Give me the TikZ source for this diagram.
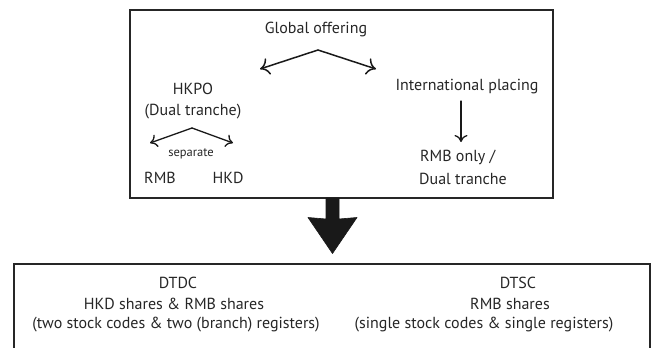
\documentclass[tikz,border=0pt]{standalone}
\usepackage{fontspec}
\setmainfont{PT Sans}
\usetikzlibrary{arrows.meta}
\begin{document}
\begin{tikzpicture}[x=1pt,y=-1pt,
  frame/.style={draw=black!85, line width=1.5pt},
  lbl/.style={font=\fontsize{16}{19}\selectfont, text=black!85, inner sep=0pt},
  smalllbl/.style={font=\fontsize{12.5}{15}\selectfont, text=black!85, inner sep=0pt},
  link/.style={draw=black!90, line width=1.5pt, line cap=round, -{To[length=9pt,width=17pt]}},
  smalllink/.style={draw=black!90, line width=1.3pt, line cap=round, -{To[length=7pt,width=13pt]}},
  bigarrow/.style={fill=black!90, draw=black!90, line width=0.6pt, line join=round}]
\useasboundingbox (0,0) rectangle (651,348);

% upper frame: offering structure
\draw[frame] (130,10) rectangle (553,198);

\node[lbl] (global) at (316,29) {Global offering};
\coordinate (gsplit) at (318,50);
\coordinate (gleft) at (260,69);
\coordinate (gright) at (376,69);
\draw[link] (gsplit) -- (gleft);
\draw[link] (gsplit) -- (gright);

\node[lbl] (hkpo) at (193,89) {HKPO};
\node[lbl] (dual) at (193,112) {(Dual tranche)};
\coordinate (hsplit) at (192,128);
\coordinate (hleft) at (150,143);
\coordinate (hright) at (233,143);
\draw[smalllink] (hsplit) -- (hleft);
\draw[smalllink] (hsplit) -- (hright);
\node[smalllbl] (separate) at (191,154) {separate};
\node[lbl] (rmb) at (160,178) {RMB};
\node[lbl] (hkd) at (228,178) {HKD};

\node[lbl] (intl) at (467,87) {International placing};
\node[lbl, anchor=west] (rmbonly) at (420,157) {RMB only /};
\node[lbl, anchor=west] (dualtr) at (419,179) {Dual tranche};
\coordinate (itop) at (461,101);
\coordinate (ibot) at (461,142);
\draw[smalllink] (itop) -- (ibot);

% block arrow down to the listing models
\path[bigarrow] (326,198) -- (339,198) -- (339,219) -- (357,217.5)
  -- (332.5,253.5) -- (308,217.5) -- (326,219) -- cycle;

% lower frame: share structures
\draw[frame] (14,264) rectangle (650,370);

\node[lbl] (dtdc) at (178,283) {DTDC};
\node[lbl] (dtdcshares) at (174,304) {HKD shares \& RMB shares};
\node[lbl] (dtdcnote) at (176,325) {(two stock codes \& two (branch) registers)};

\node[lbl] (dtsc) at (518,283) {DTSC};
\node[lbl] (dtscshares) at (510,304) {RMB shares};
\node[lbl] (dtscnote) at (484,325) {(single stock codes \& single registers)};
\end{tikzpicture}
\end{document}
